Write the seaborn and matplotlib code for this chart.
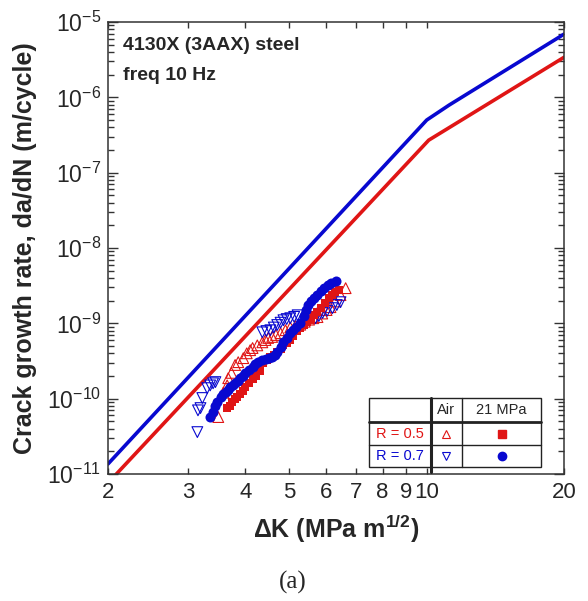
import matplotlib
matplotlib.use("Agg")
import matplotlib.pyplot as plt
import seaborn as sns
from matplotlib.ticker import FixedLocator, FixedFormatter, NullLocator, LogLocator

RED = "#e01515"
BLUE = "#0808d0"

# design curves
dk_line_r07 = [2.0, 10.0, 11.2, 20.0]
da_line_r07 = [1.36e-11, 5.0e-7, 7.9e-7, 6.9e-6]
dk_line_r05 = [2.0, 10.1, 20.0]
da_line_r05 = [7.6e-12, 2.7e-7, 3.4e-6]

# R = 0.7, 21 MPa H2 (filled circles)
dk_h2_r07 = [3.35, 3.40, 3.44, 3.47, 3.53, 3.58, 3.62, 3.67, 3.71, 3.76, 3.80,
             3.85, 3.90, 3.95, 4.00, 4.07, 4.15, 4.21, 4.27, 4.35, 4.43, 4.50,
             4.57, 4.64, 4.70, 4.78, 4.85, 4.93, 5.02, 5.10, 5.18, 5.28, 5.37,
             5.44, 5.50, 5.58, 5.66, 5.76, 5.85, 5.95, 6.06, 6.18, 6.31]
da_h2_r07 = [5.7e-11, 6.6e-11, 8.0e-11, 9.0e-11, 1.05e-10, 1.15e-10, 1.22e-10,
             1.32e-10, 1.42e-10, 1.52e-10, 1.61e-10, 1.72e-10, 1.87e-10, 2.02e-10,
             2.18e-10, 2.40e-10, 2.62e-10, 2.85e-10, 3.05e-10, 3.24e-10, 3.40e-10,
             3.50e-10, 3.62e-10, 3.80e-10, 4.15e-10, 4.8e-10, 5.6e-10, 6.3e-10,
             7.4e-10, 8.2e-10, 9.0e-10, 1.01e-9, 1.25e-9, 1.5e-9, 1.75e-9, 1.95e-9,
             2.15e-9, 2.37e-9, 2.65e-9, 2.95e-9, 3.21e-9, 3.45e-9, 3.6e-9]

# R = 0.5, 21 MPa H2 (filled squares)
dk_h2_r05 = [3.65, 3.70, 3.74, 3.80, 3.84, 3.90, 3.95, 4.00, 4.07, 4.15, 4.22,
             4.30, 4.38, 4.46, 4.54, 4.62, 4.70, 4.78, 4.85, 4.93, 5.02, 5.10,
             5.19, 5.28, 5.37, 5.47, 5.57, 5.67, 5.76, 5.87, 5.98, 6.09, 6.20,
             6.30, 6.41]
da_h2_r05 = [7.5e-11, 8.0e-11, 9.0e-11, 1.0e-10, 1.05e-10, 1.15e-10, 1.28e-10,
             1.42e-10, 1.6e-10, 1.8e-10, 2.0e-10, 2.3e-10, 2.96e-10, 3.3e-10,
             3.56e-10, 3.85e-10, 4.15e-10, 4.6e-10, 5.1e-10, 5.5e-10, 5.98e-10,
             6.8e-10, 7.8e-10, 8.8e-10, 9.46e-10, 1.05e-9, 1.15e-9, 1.28e-9,
             1.41e-9, 1.6e-9, 1.85e-9, 2.16e-9, 2.4e-9, 2.6e-9, 2.76e-9]

# R = 0.5, air (open up-triangles)
dk_air_r05 = [3.49, 3.58, 3.65, 3.67, 3.73, 3.80, 3.86, 3.96, 4.03, 4.10, 4.15,
              4.25, 4.36, 4.43, 4.49, 4.58, 4.67, 4.78, 4.90, 5.02, 5.15, 5.28,
              5.40, 5.52, 5.64, 5.76, 5.90, 6.03, 6.15, 6.30, 6.47, 6.64]
da_air_r05 = [5.7e-11, 1.2e-10, 1.5e-10, 1.87e-10, 2.2e-10, 2.8e-10, 3.05e-10,
              3.45e-10, 4.0e-10, 4.4e-10, 4.7e-10, 5.1e-10, 5.6e-10, 6.0e-10,
              6.4e-10, 6.6e-10, 7.0e-10, 7.4e-10, 8.1e-10, 8.8e-10, 9.2e-10,
              9.6e-10, 1.05e-9, 1.12e-9, 1.17e-9, 1.21e-9, 1.35e-9, 1.5e-9,
              1.64e-9, 1.95e-9, 2.37e-9, 2.93e-9]

# R = 0.7, air (open down-triangles)
dk_air_r07 = [3.14, 3.15, 3.19, 3.22, 3.30, 3.35, 3.40, 3.44, 4.36, 4.45, 4.54,
              4.62, 4.70, 4.78, 4.85, 4.93, 5.02, 5.12, 5.21, 5.70, 5.80, 5.91,
              6.05, 6.21, 6.35, 6.47]
da_air_r07 = [3.6e-11, 7.0e-11, 7.5e-11, 1.02e-10, 1.38e-10, 1.5e-10, 1.6e-10,
              1.66e-10, 7.6e-10, 7.9e-10, 8.1e-10, 8.8e-10, 9.5e-10, 1.02e-9,
              1.1e-9, 1.14e-9, 1.17e-9, 1.22e-9, 1.28e-9, 1.17e-9, 1.25e-9,
              1.37e-9, 1.47e-9, 1.59e-9, 1.75e-9, 1.91e-9]

x_ticks = [2, 3, 4, 5, 6, 7, 8, 9, 10, 20]
x_tick_labels = ["2", "3", "4", "5", "6", "7", "8", "9", "10", "20"]

sns.set_style("ticks")
plt.rcParams["font.family"] = ["Liberation Sans", "DejaVu Sans"]
plt.rcParams["mathtext.fontset"] = "custom"
plt.rcParams["mathtext.rm"] = "Liberation Sans"
plt.rcParams["mathtext.bf"] = "Liberation Sans:bold"
plt.rcParams["axes.unicode_minus"] = False

fig = plt.figure(figsize=(5.88, 6.01), dpi=100)
ax = fig.add_axes([0.1837, 0.2113, 0.7755, 0.7521])

sns.lineplot(x=dk_line_r07, y=da_line_r07, ax=ax, color=BLUE, lw=2.6,
             estimator=None, sort=False)
sns.lineplot(x=dk_line_r05, y=da_line_r05, ax=ax, color=RED, lw=2.6,
             estimator=None, sort=False)

sns.scatterplot(x=dk_air_r05, y=da_air_r05, ax=ax, marker="^", s=60,
                facecolor="none", edgecolor=RED, linewidth=0.8, zorder=3)
sns.scatterplot(x=dk_air_r07, y=da_air_r07, ax=ax, marker="v", s=60,
                facecolor="none", edgecolor=BLUE, linewidth=0.8, zorder=3)
sns.scatterplot(x=dk_h2_r05, y=da_h2_r05, ax=ax, marker="s", s=40,
                color=RED, edgecolor=RED, linewidth=0, zorder=4)
sns.scatterplot(x=dk_h2_r07, y=da_h2_r07, ax=ax, marker="o", s=52,
                color=BLUE, edgecolor=BLUE, linewidth=0, zorder=5)

ax.set_xscale("log")
ax.set_yscale("log")
ax.set_xlim(2, 20)
ax.set_ylim(1e-11, 1e-5)

ax.xaxis.set_major_locator(FixedLocator(x_ticks))
ax.xaxis.set_major_formatter(FixedFormatter(x_tick_labels))
ax.xaxis.set_minor_locator(NullLocator())
ax.yaxis.set_major_locator(LogLocator(base=10, numticks=10))
ax.yaxis.set_minor_locator(LogLocator(base=10, subs=range(2, 10), numticks=10))

ax.tick_params(which="both", direction="in", top=True, right=True,
               color="#333333", width=1)
ax.tick_params(axis="x", which="major", length=4, labelsize=16, pad=6)
ax.tick_params(axis="y", which="major", length=7, labelsize=16.5, pad=5)
ax.tick_params(axis="y", which="minor", length=4)
for s in ax.spines.values():
    s.set_linewidth(1.1)
    s.set_color("#333333")

ax.set_xlabel(r"ΔK (MPa m$^{\mathbf{1/2}}$)", fontsize=18, fontweight="bold")
ax.xaxis.set_label_coords(0.5, -0.085)
ax.set_ylabel("Crack growth rate, da/dN (m/cycle)", fontsize=18,
              fontweight="bold")
ax.yaxis.set_label_coords(-0.155, 0.5)

ax.text(0.033, 0.938, "4130X (3AAX) steel", transform=ax.transAxes,
        fontsize=14, fontweight="bold", va="baseline")
ax.text(0.033, 0.872, "freq 10 Hz", transform=ax.transAxes,
        fontsize=14, fontweight="bold", va="baseline")

# legend table
tl, tr, c1, c2 = 0.572, 0.950, 0.708, 0.776
tt, r1, r2, tb = 0.168, 0.115, 0.064, 0.0155
T = ax.transAxes
ax.add_patch(plt.Rectangle((tl, tb), tr - tl, tt - tb, transform=T,
                           facecolor="white", edgecolor="#222222", lw=1.0,
                           zorder=6))
ax.plot([tl, tr], [r1, r1], transform=T, color="#222222", lw=2.0, zorder=7)
ax.plot([tl, tr], [r2, r2], transform=T, color="#222222", lw=1.0, zorder=7)
ax.plot([c1, c1], [0.004, tt], transform=T, color="#222222", lw=2.2, zorder=7)
ax.plot([c2, c2], [tb, tt], transform=T, color="#222222", lw=1.0, zorder=7)

mid_l, mid_a, mid_h = (tl + c1) / 2, (c1 + c2) / 2, (c2 + tr) / 2
h0, h1, h2 = (tt + r1) / 2, (r1 + r2) / 2, (r2 + tb) / 2
ax.text(mid_a, h0, "Air", transform=T, ha="center", va="center",
        fontsize=10.5, zorder=8)
ax.text(mid_h, h0, "21 MPa", transform=T, ha="center", va="center",
        fontsize=10.5, zorder=8)
ax.text(mid_l, h1, "R = 0.5", transform=T, ha="center", va="center",
        fontsize=10.5, color=RED, zorder=8)
ax.text(mid_l, h2, "R = 0.7", transform=T, ha="center", va="center",
        fontsize=10.5, color=BLUE, zorder=8)
ax.plot([mid_a], [h1], transform=T, marker="^", ms=5.5, mfc="none",
        mec=RED, mew=0.8, zorder=8)
ax.plot([mid_h], [h1], transform=T, marker="s", ms=5.5, color=RED, zorder=8)
ax.plot([mid_a], [h2], transform=T, marker="v", ms=5.5, mfc="none",
        mec=BLUE, mew=0.8, zorder=8)
ax.plot([mid_h], [h2], transform=T, marker="o", ms=6, color=BLUE, zorder=8)

fig.text(293 / 588, 1 - 582 / 601, "(a)", ha="center", va="center",
         fontsize=18, family="Liberation Serif")

fig.savefig("out.png", dpi=100)
